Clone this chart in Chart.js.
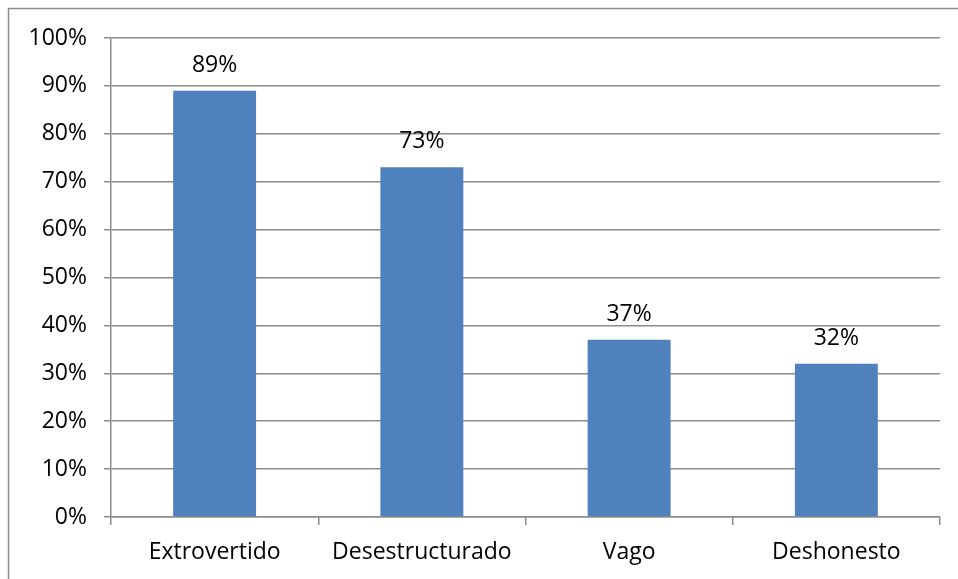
<!DOCTYPE html>
<html>
<head>
<meta charset="utf-8">
<script src="https://cdn.jsdelivr.net/npm/chart.js@4/dist/chart.umd.min.js"></script>
<style>
html,body{margin:0;padding:0;background:#fff;}
#wrap{width:958px;height:579px;position:relative;}
</style>
</head>
<body>
<div id="wrap"><canvas id="c" width="958" height="579"></canvas></div>
<script>
const categories = ["Extrovertido", "Desestructurado", "Vago", "Deshonesto"];
const values = [89, 73, 37, 32];
const valueLabels = ["89%", "73%", "37%", "32%"];
const yTicks = [0, 10, 20, 30, 40, 50, 60, 70, 80, 90, 100];

const FONT = "'Open Sans'";
const FSIZE = 23;
const GRID = "#8c8c8c";

const frame = {
  id: "frame",
  beforeDraw(chart) {
    const ctx = chart.ctx;
    ctx.save();
    ctx.fillStyle = "#fff";
    ctx.fillRect(0, 0, chart.width, chart.height);
    ctx.strokeStyle = "#8c8c8c";
    ctx.lineWidth = 1.5;
    ctx.strokeRect(8.5, 8.5, 1000, 700);
    ctx.restore();
  }
};

const valueLabelPlugin = {
  id: "valueLabels",
  afterDatasetsDraw(chart) {
    const ctx = chart.ctx;
    const meta = chart.getDatasetMeta(0);
    ctx.save();
    ctx.font = FSIZE + "px " + FONT;
    ctx.fillStyle = "#000";
    ctx.textAlign = "center";
    ctx.textBaseline = "alphabetic";
    meta.data.forEach((bar, i) => {
      ctx.fillText(valueLabels[i], bar.x, bar.y - 19);
    });
    ctx.restore();
  }
};

new Chart(document.getElementById("c"), {
  type: "bar",
  data: {
    labels: categories,
    datasets: [{
      data: values,
      backgroundColor: "#4f81bd",
      borderWidth: 0,
      barPercentage: 0.4,
      categoryPercentage: 1.0
    }]
  },
  options: {
    responsive: false,
    animation: false,
    devicePixelRatio: 1,
    layout: { padding: { top: 38, right: 18, bottom: 0, left: 0 } },
    plugins: { legend: { display: false }, tooltip: { enabled: false } },
    scales: {
      x: {
        afterFit(s) { s.height = 62; },
        grid: { offset: true, drawOnChartArea: false, drawTicks: true, tickLength: 8, color: GRID, lineWidth: 1.5 },
        border: { display: true, color: GRID, width: 1.5 },
        ticks: { color: "#000", font: { family: FONT, size: FSIZE }, padding: 14, maxRotation: 0 }
      },
      y: {
        min: 0, max: 100,
        afterFit(s) { s.width = 111; },
        afterBuildTicks(s) { s.ticks = yTicks.map(v => ({ value: v })); },
        grid: { color: GRID, lineWidth: 1.5, tickLength: 7, drawTicks: true },
        border: { display: true, color: GRID, width: 1.5 },
        ticks: { color: "#000", font: { family: FONT, size: FSIZE }, padding: 17, callback: v => v + "%" }
      }
    }
  },
  plugins: [frame, valueLabelPlugin]
});
</script>
</body>
</html>
